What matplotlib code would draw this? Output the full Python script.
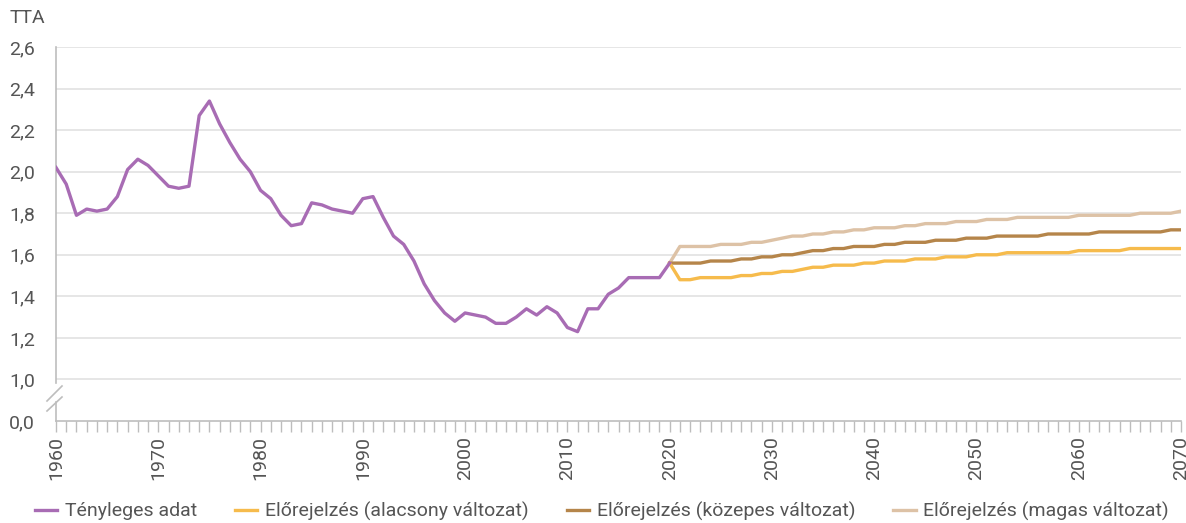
import matplotlib
matplotlib.use("Agg")
import matplotlib.pyplot as plt
from matplotlib.lines import Line2D

plt.rcParams["font.family"] = ["Roboto", "DejaVu Sans"]

# actual total fertility rate
years_actual = list(range(1960, 2021))
tta_actual = [
    2.02, 1.94, 1.79, 1.82, 1.81, 1.82, 1.88, 2.01, 2.06, 2.03,
    1.98, 1.93, 1.92, 1.93, 2.27, 2.34, 2.23, 2.14, 2.06, 2.00,
    1.91, 1.87, 1.79, 1.74, 1.75, 1.85, 1.84, 1.82, 1.81, 1.80,
    1.87, 1.88, 1.78, 1.69, 1.65, 1.57, 1.46, 1.38, 1.32, 1.28,
    1.32, 1.31, 1.30, 1.27, 1.27, 1.30, 1.34, 1.31, 1.35, 1.32,
    1.25, 1.23, 1.34, 1.34, 1.41, 1.44, 1.49, 1.49, 1.49, 1.49,
    1.56,
]

# projections 2020-2070
years_proj = list(range(2020, 2071))
tta_low = [
    1.56, 1.48, 1.48, 1.49, 1.49, 1.49, 1.49, 1.50, 1.50, 1.51,
    1.51, 1.52, 1.52, 1.53, 1.54, 1.54, 1.55, 1.55, 1.55, 1.56,
    1.56, 1.57, 1.57, 1.57, 1.58, 1.58, 1.58, 1.59, 1.59, 1.59,
    1.60, 1.60, 1.60, 1.61, 1.61, 1.61, 1.61, 1.61, 1.61, 1.61,
    1.62, 1.62, 1.62, 1.62, 1.62, 1.63, 1.63, 1.63, 1.63, 1.63,
    1.63,
]
tta_mid = [
    1.56, 1.56, 1.56, 1.56, 1.57, 1.57, 1.57, 1.58, 1.58, 1.59,
    1.59, 1.60, 1.60, 1.61, 1.62, 1.62, 1.63, 1.63, 1.64, 1.64,
    1.64, 1.65, 1.65, 1.66, 1.66, 1.66, 1.67, 1.67, 1.67, 1.68,
    1.68, 1.68, 1.69, 1.69, 1.69, 1.69, 1.69, 1.70, 1.70, 1.70,
    1.70, 1.70, 1.71, 1.71, 1.71, 1.71, 1.71, 1.71, 1.71, 1.72,
    1.72,
]
tta_high = [
    1.56, 1.64, 1.64, 1.64, 1.64, 1.65, 1.65, 1.65, 1.66, 1.66,
    1.67, 1.68, 1.69, 1.69, 1.70, 1.70, 1.71, 1.71, 1.72, 1.72,
    1.73, 1.73, 1.73, 1.74, 1.74, 1.75, 1.75, 1.75, 1.76, 1.76,
    1.76, 1.77, 1.77, 1.77, 1.78, 1.78, 1.78, 1.78, 1.78, 1.78,
    1.79, 1.79, 1.79, 1.79, 1.79, 1.79, 1.80, 1.80, 1.80, 1.80,
    1.81,
]

labels = [
    "Tényleges adat",
    "Előrejelzés (alacsony változat)",
    "Előrejelzés (közepes változat)",
    "Előrejelzés (magas változat)",
]
colors = ["#a86cb4", "#f6bb4c", "#b5854a", "#ddc2a6"]

y_ticks = [0.8, 1.0, 1.2, 1.4, 1.6, 1.8, 2.0, 2.2, 2.4, 2.6]
y_ticklabels = ["0,0", "1,0", "1,2", "1,4", "1,6", "1,8", "2,0", "2,2", "2,4", "2,6"]

W, H = 1186, 523
fig = plt.figure(figsize=(W / 100, H / 100), dpi=100)
ax = fig.add_axes([56 / W, 1 - 421 / H, (1181 - 56) / W, (421 - 47) / H])

text_c = "#555555"
grid_c = "#e2e2e2"
axis_c = "#bdbdbd"
fs = 14

for yv in y_ticks[1:]:
    ax.axhline(yv, color=grid_c, lw=1.2, zorder=0)

lw = 2.4
ax.plot(years_proj, tta_high, color=colors[3], lw=lw, zorder=2)
ax.plot(years_proj, tta_mid, color=colors[2], lw=lw, zorder=3)
ax.plot(years_proj, tta_low, color=colors[1], lw=lw, zorder=3)
ax.plot(years_actual, tta_actual, color=colors[0], lw=lw, zorder=4)

ax.set_xlim(1960, 2070)
ax.set_ylim(0.8, 2.6)
ax.set_yticks(y_ticks)
ax.set_yticklabels(y_ticklabels)
ax.tick_params(axis="y", length=0, pad=15, labelsize=fs, labelcolor=text_c)

ax.set_xticks(range(1960, 2071, 10))
ax.set_xticks(range(1960, 2071), minor=True)
ax.tick_params(axis="x", which="both", length=8, width=1, color=axis_c,
               labelsize=fs, labelcolor=text_c, labelrotation=90, pad=3)

for s in ["top", "right", "left"]:
    ax.spines[s].set_visible(False)
ax.spines["bottom"].set_color(axis_c)
ax.spines["bottom"].set_linewidth(1.2)

# left spine with break
ax.plot([0, 0], [0.102, 1.0], transform=ax.transAxes, color=axis_c, lw=1.2, clip_on=False)
ax.plot([0, 0], [0.0, 0.052], transform=ax.transAxes, color=axis_c, lw=1.2, clip_on=False)
fx = lambda px: px / W
fy = lambda py: 1 - py / H
fig.add_artist(Line2D([fx(47), fx(62)], [fy(401), fy(386)], color=axis_c, lw=1.2))
fig.add_artist(Line2D([fx(47), fx(62)], [fy(411), fy(397)], color=axis_c, lw=1.2))

fig.text(10 / W, fy(18), "TTA", fontsize=fs, color=text_c, va="center", ha="left")

handles = [Line2D([0], [0], color=c, lw=2.4) for c in colors]
fig.legend(handles, labels, loc="center", bbox_to_anchor=(fx(602), fy(511)), ncol=4,
           frameon=False, fontsize=fs, handlelength=1.15, columnspacing=1.95,
           handletextpad=0.4, labelcolor=text_c)

fig.savefig("out.png", dpi=100)
